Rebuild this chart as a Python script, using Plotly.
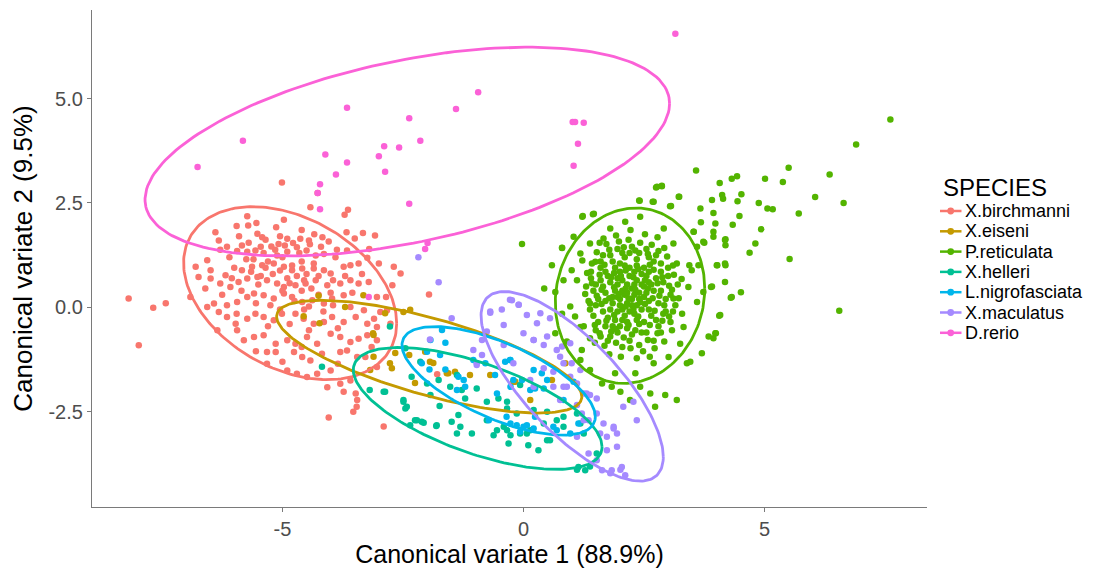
import numpy as np
import plotly.graph_objects as go

species = ["X.birchmanni", "X.eiseni", "P.reticulata", "X.helleri",
           "L.nigrofasciata", "X.maculatus", "D.rerio"]
colors = ["#F8766D", "#C49A00", "#53B400", "#00C094", "#00B6EB", "#A58AFF", "#FB61D7"]

# ---- point data (canonical variate 1, canonical variate 2) ----
birchmanni = [
    (-8.19, 0.21), (-7.68, -0.01), (-7.42, 0.10), (-7.98, -0.91), (-4.04, -2.64), (-2.90, -2.85),
    (-3.53, -2.50), (-3.46, -2.38), (-3.48, -2.06), (-3.45, -2.22), (-3.73, -2.02),
    (-5.01, 2.99), (-4.27, 2.74), (-4.42, 2.40), (-3.71, 2.22), (-3.64, 2.34), (-3.33, 1.78),
    (-3.08, 1.72), (-3.67, 1.80), (-1.96, 0.31), (-1.79, -1.60),
    (-5.73, 2.18), (-5.54, 2.02), (-5.71, 1.96), (-5.13, 1.92), (-4.97, 2.10), (-6.39, 1.80),
    (-6.32, 1.60), (-5.52, 1.76), (-5.42, 1.68), (-4.90, 1.64), (-4.78, 1.54), (-4.63, 1.64),
    (-4.34, 1.75), (-4.17, 1.68), (-4.04, 1.58), (-4.43, 1.51), (-4.70, 1.44), (-5.08, 1.52),
    (-5.23, 1.46), (-5.56, 1.36), (-5.84, 1.48), (-5.94, 1.35), (-5.73, 1.33), (-5.39, 1.30),
    (-5.11, 1.24), (-4.90, 1.33), (-4.50, 1.36), (-4.31, 1.24), (-4.14, 1.28), (-3.87, 1.38),
    (-3.66, 1.36), (-6.56, 1.13), (-6.29, 1.38), (-6.80, 0.97), (-6.49, 0.89), (-6.18, 0.77),
    (-5.84, 0.89), (-5.63, 0.97), (-5.42, 1.01), (-5.18, 1.05), (-4.97, 0.97), (-4.80, 0.89),
    (-4.59, 0.93), (-4.35, 0.93), (-4.14, 0.89), (-4.00, 0.81), (-3.73, 0.97), (-3.59, 1.01),
    (-3.42, 1.05), (-3.24, 1.19), (-6.91, 0.25), (-6.74, 0.73), (-6.49, 0.69), (-6.29, 0.57),
    (-6.08, 0.49), (-5.91, 0.61), (-5.73, 0.69), (-5.52, 0.73), (-5.32, 0.65), (-5.11, 0.57),
    (-4.97, 0.49), (-4.73, 0.53), (-4.52, 0.57), (-4.31, 0.65), (-4.07, 0.53), (-3.80, 0.57),
    (-3.59, 0.65), (-3.42, 0.57), (-3.21, 0.61), (-3.04, 0.25), (-2.69, 0.97), (-2.55, 0.81),
    (-2.72, 0.53), (-6.42, 0.09), (-6.15, 0.05), (-5.94, 0.13), (-5.73, 0.25), (-5.59, 0.33),
    (-5.39, 0.29), (-5.18, 0.21), (-4.97, 0.33), (-4.80, 0.25), (-4.59, 0.13), (-4.38, 0.17),
    (-4.14, 0.09), (-3.97, 0.21), (-3.73, 0.29), (-3.59, 0.01), (-3.31, -0.07), (-3.10, -0.27),
    (-2.97, -0.11), (-2.83, -0.07), (-2.76, -0.39), (-6.56, 0.01), (-6.32, -0.11), (-6.15, -0.23),
    (-5.97, -0.39), (-5.73, -0.27), (-5.56, -0.15), (-5.39, -0.23), (-5.18, -0.31), (-5.01, -0.15),
    (-4.73, -0.15), (-4.56, -0.27), (-4.35, -0.39), (-4.14, -0.35), (-3.97, -0.23), (-3.73, -0.35),
    (-3.48, -0.23), (-3.24, -0.39), (-3.04, -0.47), (-6.35, -0.55), (-5.94, -0.55), (-5.59, -0.71),
    (-5.39, -0.67), (-5.14, -0.87), (-4.90, -0.79), (-4.73, -0.87), (-4.49, -0.71), (-4.28, -0.87),
    (-4.00, -0.63), (-3.80, -0.71), (-3.59, -0.83), (-3.42, -0.75), (-3.24, -0.67), (-3.04, -0.79),
    (-5.80, -0.79), (-5.32, -1.07), (-5.14, -1.07), (-4.76, -1.07), (-4.59, -1.19), (-4.42, -1.27),
    (-4.18, -1.11), (-3.80, -1.07), (-3.66, -1.03), (-3.45, -1.19), (-3.28, -1.19), (-3.04, -1.43),
    (-5.32, -1.35), (-4.90, -1.51), (-4.70, -1.59), (-4.49, -1.67), (-4.28, -1.59), (-4.00, -1.51),
    (-3.80, -1.83), (-3.59, -1.75), (-4.07, -1.91),
    (-5.30, 1.10), (-5.00, 1.20), (-4.80, 1.00), (-4.60, 1.10), (-5.20, 0.80), (-4.90, 0.70),
    (-4.70, 0.75), (-4.50, 0.80), (-5.50, 0.55), (-5.00, 0.40), (-4.60, 0.40), (-4.40, 0.45),
    (-4.25, 0.30), (-4.00, 0.35), (-5.60, 1.15), (-5.45, 1.45), (-5.90, 1.70), (-5.70, 1.55),
    (-4.20, 1.45), (-4.45, 1.60), (-3.90, 1.20), (-3.70, 0.75), (-3.95, 0.05), (-4.55, -0.05),
    (-5.25, 0.05), (-5.85, 0.40), (-6.00, 0.95), (-6.10, 1.20),
    (-5.15, 1.38), (-4.95, 1.48), (-4.65, 1.30), (-5.35, 0.95), (-5.05, 0.88), (-4.85, 0.58),
    (-4.55, 0.65), (-4.35, 1.05), (-5.45, 0.75), (-5.65, 0.85), (-5.75, 1.15), (-6.05, 0.70),
    (-4.75, 0.15), (-4.45, 0.02), (-5.05, -0.05), (-5.55, 0.10), (-5.30, -0.45), (-4.85, -0.40),
    (-4.45, -0.55), (-4.15, -0.10), (-3.85, -0.50), (-3.55, 0.35), (-3.35, 0.80), (-3.95, 0.65),
    (-4.25, 0.75), (-6.25, 0.30), (-6.60, 0.45), (-5.95, -0.15), (-5.05, 1.70), (-4.60, 1.85),
    (-5.35, 1.62), (-5.95, 1.95), (-6.15, 1.45), (-3.50, 1.65), (-3.20, 1.40), (-3.00, 1.05),
    (-2.85, 0.25), (-3.15, -0.95), (-3.85, -1.35), (-4.60, -0.95), (-5.00, -1.30), (-5.55, -1.05),
]

eiseni = [
    (-4.25, 0.28), (-4.56, -0.21), (-4.23, -0.38), (-3.70, 0.01), (-2.87, -0.14), (-2.49, -0.11),
    (-2.35, -0.06), (-3.11, -0.66), (-3.11, -1.18), (-2.66, -1.09), (-2.37, -1.14), (-2.77, -1.34),
    (-2.73, -1.46), (-3.18, -1.50), (-2.04, -1.06), (-1.94, -1.30), (-1.87, -1.33), (-1.56, -1.58),
    (-1.42, -1.54), (-1.11, -1.62), (-2.25, -1.81), (-0.69, -1.62), (-3.12, -0.62), (-3.32, 0.29),
    (-0.17, -1.78), (0.14, -2.22), (0.59, -1.74), (-0.21, -1.78), (0.87, -1.34), (-1.59, -1.58),
]

reticulata = [
    # upper-right tail
    (7.61, 4.50), (6.90, 3.90), (6.35, 3.18), (5.50, 3.34), (5.01, 3.08), (5.38, 3.00),
    (6.05, 2.64), (6.64, 2.50), (5.71, 2.25), (6.55, -0.08), (5.52, 1.16), (4.93, 1.87),
    (4.81, 1.53), (4.69, 1.31), (4.88, 2.50), (5.06, 2.37), (5.17, 2.35), (4.52, 2.71),
    (4.44, 2.54), (4.48, 2.19), (4.34, 1.98), (4.32, 3.08), (4.43, 3.14), (4.07, 2.98),
    (4.12, 2.69), (4.14, 2.60), (3.91, 2.57), (3.94, 2.26), (3.98, 2.01), (3.94, 1.81),
    (3.75, 1.55), (3.67, 2.37), (3.68, 2.04), (4.19, 1.63), (4.19, 1.49), (4.02, 1.01),
    (4.19, 1.01), (4.18, 0.61), (3.89, 0.49), (4.30, 0.23), (4.51, 0.36), (4.06, -0.20),
    (3.99, -0.62), (3.94, -0.74), (3.58, 3.28), (2.75, 2.87), (2.87, 2.90), (3.23, 2.65),
    (2.40, 2.56), (2.68, 2.53), (3.06, 2.43), (3.53, 1.81), (3.44, 1.01), (3.63, 1.01),
    (3.73, 0.37), (-0.03, 1.52), (0.80, 1.42), (1.22, 2.17), (1.44, 2.23),
    # cluster edge
    (1.23, 2.19), (1.46, 2.24), (2.41, 2.55), (2.70, 2.53), (2.77, 2.89), (2.87, 2.91),
    (3.22, 2.65), (3.04, 2.42), (0.80, 1.43), (0.59, 1.01), (0.43, 0.45), (0.66, 0.37),
    (0.97, 0.02), (1.07, -0.22), (0.66, -0.62), (0.90, -0.82), (1.21, -1.02), (1.38, -1.50),
    (1.63, -1.82), (1.83, -1.90), (2.01, -2.02), (2.42, -1.90), (2.63, -2.06), (2.94, -2.10),
    (3.18, -2.22), (2.73, -2.38), (2.21, -2.22), (3.39, -1.34), (3.46, -1.30), (3.70, -1.10),
    (3.84, -0.70), (4.08, -0.18), (3.98, -0.62), (3.91, 0.50), (4.01, 1.01), (4.18, 1.05),
    (4.32, 0.25), (3.94, 1.69), (4.18, 1.61), (3.73, 1.57), (3.53, 1.81), (3.60, 1.45),
    (3.49, 0.89), (3.42, 0.49), (3.60, 0.13), (3.29, -0.15), (3.32, -0.47), (3.25, -0.87),
    (3.01, -1.19), (1.04, 1.69), (1.18, 1.29), (1.00, 0.89), (0.83, 0.65), (1.11, 0.65),
    (0.80, -0.15), (1.18, -0.47), (1.38, -0.74), (1.18, -1.26), (1.90, -1.58), (2.32, -1.58),
    (2.70, -1.34), (3.08, -0.55), (3.11, 0.21), (3.18, 1.05), (3.11, 1.53), (2.91, 1.89),
    (2.42, 2.17), (2.11, 2.05), (1.80, 1.89), (1.66, 1.65), (1.38, 1.53), (1.49, 1.09),
    (1.38, 0.09),
    # dense core
    (2.10, 0.30), (2.25, 0.45), (1.95, 0.55), (2.40, 0.20), (1.85, 0.10), (2.05, -0.05),
    (2.30, -0.15), (2.55, 0.35), (2.60, 0.60), (1.70, 0.35), (1.75, 0.75), (2.00, 0.85),
    (2.20, 0.95), (2.45, 0.80), (2.70, 0.90), (2.85, 0.40), (2.80, 0.10), (2.65, -0.20),
    (2.40, -0.40), (2.15, -0.35), (1.90, -0.30), (1.65, -0.10), (1.55, 0.20), (1.50, 0.55),
    (1.60, 0.95), (1.85, 1.10), (2.10, 1.20), (2.35, 1.15), (2.60, 1.20), (2.85, 1.05),
    (3.00, 0.75), (3.05, 0.30), (2.95, -0.10), (2.80, -0.45), (2.55, -0.60), (2.25, -0.65),
    (1.95, -0.60), (1.70, -0.45), (1.45, -0.20), (1.35, 0.15), (1.30, 0.50), (1.40, 0.85),
    (1.65, 1.25), (1.95, 1.40), (2.25, 1.45), (2.55, 1.40), (2.80, 1.35), (3.10, 1.00),
    (3.20, 0.55), (3.15, 0.05), (3.05, -0.35), (2.70, -0.80), (2.40, -0.90), (2.05, -0.95),
    (1.75, -0.80), (1.50, -0.55), (2.00, 0.20), (2.15, 0.10), (2.30, 0.30), (2.50, 0.50),
    (1.90, 0.40), (2.05, 0.65), (2.35, 0.65), (2.20, 0.75), (1.80, 0.60), (2.60, 0.15),
    (2.45, -0.05), (2.20, -0.10), (1.95, -0.10), (1.80, -0.05), (2.70, 0.40), (2.75, 0.70),
    (1.60, 0.65), (1.70, 0.15), (2.10, -0.20), (2.35, 0.05), (2.50, 0.95), (2.30, 0.85),
    (1.90, 0.95), (2.15, 0.55), (2.40, 0.35), (2.05, 0.40), (2.25, 0.20), (1.85, 0.25),
    (2.55, 0.75), (2.65, 0.55), (1.75, -0.25), (2.00, -0.45), (2.50, -0.35), (2.90, 0.60),
    (2.95, 0.20), (1.45, 0.40), (1.55, -0.35), (2.10, 1.00), (2.70, 1.10), (1.80, 1.25),
    (2.40, 1.30), (2.20, 1.30), (1.95, 0.70), (2.45, 0.55), (2.00, 0.05), (2.60, -0.05),
    (2.35, -0.30), (1.65, 0.50), (2.85, 0.85), (2.15, 0.35), (1.95, 0.25), (2.30, 0.55),
    (2.50, 0.25), (2.25, 0.05), (2.05, -0.30), (2.75, -0.30), (1.85, -0.45), (2.60, 0.85),
    (1.70, 0.85), (2.00, 1.05), (2.90, -0.15), (1.50, 0.05), (2.35, 1.00), (2.15, -0.50),
    (2.45, -0.60), (1.80, -0.70), (3.00, 0.95), (1.40, 0.70), (1.60, 1.10), (2.75, 1.25),
    (2.05, 1.30), (3.10, -0.10), (2.85, -0.60), (2.20, -0.80), (1.60, -0.70),
    (1.72, 1.52), (1.98, 1.58), (2.18, 1.62), (2.42, 1.55), (2.66, 1.50), (2.92, 1.42),
    (1.52, 1.32), (1.78, 1.38), (2.08, 1.44), (2.32, 1.36), (2.58, 1.28), (2.98, 1.22),
    (1.42, 1.05), (1.68, 1.02), (1.88, 0.82), (2.12, 0.88), (2.38, 0.92), (2.62, 1.02),
    (2.88, 0.72), (3.12, 0.78), (1.32, 0.82), (1.58, 0.78), (1.82, 0.72), (2.02, 0.75),
    (2.28, 0.72), (2.52, 0.65), (2.78, 0.58), (3.02, 0.52), (1.42, 0.58), (1.62, 0.42),
    (1.88, 0.48), (2.12, 0.45), (2.32, 0.42), (2.58, 0.45), (2.82, 0.28), (3.08, 0.42),
    (1.28, 0.32), (1.52, 0.28), (1.78, 0.22), (1.98, 0.32), (2.18, 0.22), (2.42, 0.12),
    (2.68, 0.22), (2.92, 0.05), (1.38, -0.05), (1.62, 0.08), (1.88, -0.18), (2.12, 0.02),
    (2.28, -0.05), (2.52, 0.08), (2.72, -0.08), (3.02, -0.22), (1.48, -0.42), (1.72, -0.32),
    (1.92, -0.52), (2.18, -0.42), (2.38, -0.22), (2.62, -0.42), (2.88, -0.32), (1.58, -0.62),
    (1.82, -0.58), (2.08, -0.72), (2.32, -0.55), (2.58, -0.78), (2.78, -0.62), (1.68, -0.92),
    (1.92, -0.85), (2.22, -0.98), (2.48, -1.05), (2.72, -0.98), (1.48, -0.85), (2.02, -1.18),
    (2.35, -1.22), (1.78, -1.12), (2.62, -1.18), (2.92, -0.82), (1.25, -0.45), (3.22, 0.22),
    (3.28, 0.68), (1.22, 1.12), (1.92, 1.72), (2.52, 1.75), (2.22, 1.85), (2.78, 1.68),
    (1.58, 1.55),
]

helleri = [
    (-2.77, -0.46), (-3.19, -1.98), (-2.87, -2.02), (-2.49, -2.22), (-2.42, -2.38), (-2.35, -2.82),
    (-2.21, -2.70), (-2.11, -2.74), (-1.81, -2.84), (-1.74, -2.36), (-1.49, -2.74), (-1.31, -2.86),
    (-1.35, -2.58), (-1.07, -3.02), (-0.76, -2.70), (-0.55, -2.94), (-0.41, -2.86), (-0.62, -3.06),
    (-0.27, -3.06), (-0.07, -3.02), (0.10, -3.30), (0.31, -3.42), (-0.31, -3.26), (0.42, -2.78),
    (0.69, -2.70), (0.83, -2.62), (1.11, -2.54), (1.25, -3.02), (0.55, -3.18), (0.14, -2.94),
    (-1.21, -2.18), (-0.97, -1.94), (-1.52, -1.90), (-1.76, -1.74), (-2.00, -1.82), (-1.38, -1.62),
    (-1.28, -1.98), (-0.76, -2.26), (-0.52, -2.18), (-0.34, -2.42), (-0.14, -2.54), (0.21, -2.46),
    (0.49, -2.50), (0.83, -2.86), (1.18, -2.78), (1.38, -3.81), (1.52, -3.50), (1.11, -3.89),
    (-1.93, -2.10), (-2.32, -1.66), (-2.14, -1.30), (-2.45, -0.98), (-4.18, -1.42), (-2.90, -2.02),
    (-2.49, -2.26), (-2.45, -2.42), (-2.25, -2.70), (-2.07, -2.76), (-1.80, -2.82), (-1.38, -3.02),
    (-0.34, -2.26), (-0.34, -2.94), (0.07, -3.02), (0.49, -3.18), (1.14, -3.82), (1.28, -3.90),
    (-0.07, -1.86),
]

nigrofasciata = [
    (-1.69, -0.54), (-1.62, -0.85), (-1.93, -0.78), (-1.73, -1.14), (-1.95, -1.49), (-1.62, -1.49),
    (-1.35, -1.66), (-1.24, -1.74), (-1.38, -1.98), (-1.21, -1.90), (-0.79, -1.34), (-0.59, -1.62),
    (-0.55, -2.06), (-0.38, -1.30), (-0.27, -1.26), (-0.21, -1.74), (-0.27, -1.90), (-0.03, -1.74),
    (0.14, -1.98), (0.21, -1.50), (0.42, -1.94), (0.49, -1.74), (-0.72, -2.70), (-0.27, -2.78),
    (-0.14, -2.82), (0.00, -2.86), (0.21, -2.90), (0.24, -2.62), (-1.04, -1.26), (-2.00, -1.06),
    (-2.11, -1.34), (0.69, -2.94), (0.97, -3.02), (1.14, -2.78), (-0.28, -1.26), (0.38, -1.58),
    (0.24, -1.94), (0.83, -2.22), (1.04, -1.78), (-0.35, -2.62), (0.07, -2.82), (0.62, -2.86),
    (-0.07, -2.98),
]

maculatus = [
    (-2.18, 1.20), (-1.76, 0.60), (-1.49, -0.26), (-1.94, -0.77), (-0.97, -1.38), (-0.86, -1.14),
    (-0.69, -0.13), (-0.45, -0.05), (-0.69, -0.10), (-0.24, 0.17), (-0.10, 0.06), (-0.41, -0.42),
    (0.07, -0.18), (0.28, -0.38), (0.00, -0.62), (0.35, -0.14), (0.55, -0.26), (0.21, -0.78),
    (0.42, -0.90), (0.69, -1.02), (0.76, -1.18), (0.97, -0.86), (0.83, -1.34), (0.62, -1.54),
    (0.97, -1.66), (0.83, -1.90), (1.11, -1.82), (1.25, -2.06), (1.38, -2.10), (1.52, -2.18),
    (1.11, -2.34), (1.25, -2.70), (1.52, -2.54), (1.66, -2.78), (1.87, -2.90), (1.73, -3.10),
    (1.94, -3.34), (1.52, -3.66), (1.80, -3.97), (2.01, -3.89), (-0.86, -0.78), (-1.04, -1.02),
    (-0.97, -1.34), (0.42, -1.46), (0.14, -1.74), (-0.21, -1.34), (-0.76, -0.58), (-0.41, -0.90),
    (-0.28, 0.18), (-0.10, 0.06), (0.21, -0.78), (0.49, -0.70), (0.80, -0.94), (1.00, -1.34),
    (1.18, -1.50), (0.90, -1.90), (1.31, -2.06), (1.21, -2.54), (1.35, -2.70), (1.11, -3.10),
    (1.59, -3.02), (1.73, -3.42), (1.35, -3.50), (1.63, -3.90), (1.83, -3.90), (2.04, -3.82),
    (2.11, -4.02), (1.87, -2.86), (1.94, -3.02), (2.28, -2.26), (2.35, -2.70), (2.07, -2.38),
    (0.21, -1.90), (0.62, -1.90), (0.76, -2.22),
]

rerio = [
    (-6.76, 3.36), (-5.82, 3.99), (-3.66, 4.78), (-4.11, 3.66), (-3.66, 3.47), (-3.89, 3.18),
    (-4.22, 2.95), (-4.27, 2.74), (-2.89, 3.86), (-2.58, 3.83), (-3.00, 3.62), (-2.87, 3.25),
    (-2.37, 4.53), (-2.14, 3.99), (-2.37, 2.48), (-1.40, 4.75), (-0.94, 5.15), (-4.22, 2.35),
    (-2.04, 1.40), (-1.99, 1.54), (-3.21, 0.25), (3.15, 6.55), (1.07, 4.44), (1.25, 4.42),
    (1.13, 3.92), (1.04, 3.39), (1.02, 4.44),
]

points = [birchmanni, eiseni, reticulata, helleri, nigrofasciata, maculatus, rerio]

# ---- 95% ellipse outlines: centre, x half-width, y half-height, correlation ----
ell_cx = [-4.84, -1.955, 2.21, -0.95, -0.515, 1.01, -2.41]
ell_cy = [0.34, -1.18, 0.28, -2.42, -1.76, -1.89, 3.73]
ell_hx = [2.21, 3.165, 1.55, 2.58, 2.005, 1.89, 5.44]
ell_hy = [2.07, 1.35, 2.10, 1.46, 1.30, 2.27, 2.50]
ell_rho = [-0.35, -0.71, 0.08, -0.63, -0.66, -0.745, 0.46]

x_ticks = [-5, 0, 5]
y_ticks = [-2.5, 0.0, 2.5, 5.0]

FONT = "Liberation Sans, Arial, Helvetica, sans-serif"

fig = go.Figure()

for name, col, pts in zip(species, colors, points):
    xs = [p[0] for p in pts]
    ys = [p[1] for p in pts]
    fig.add_trace(go.Scatter(x=xs, y=ys, mode="markers", name=name, legendgroup=name,
                             showlegend=False,
                             marker=dict(color=col, size=6.5, line=dict(width=0))))

t = np.linspace(0, 2 * np.pi, 200)
for i, (name, col) in enumerate(zip(species, colors)):
    r = ell_rho[i]
    ex = ell_cx[i] + ell_hx[i] * np.cos(t)
    ey = ell_cy[i] + ell_hy[i] * (r * np.cos(t) + np.sqrt(1 - r * r) * np.sin(t))
    fig.add_trace(go.Scatter(x=ex, y=ey, mode="lines", name=name, legendgroup=name,
                             showlegend=False, line=dict(color=col, width=2.8),
                             hoverinfo="skip"))

# ---- legend drawn as keys + text (ggplot-style compact spacing) ----
ML, MT, PW, PH = 84, 2, 835, 497   # plot-area margins / size in figure pixels


def px_x(p):
    return (p - ML) / PW


def px_y(p):
    return 1 - (p - MT) / PH


key_x0, key_x1, dot_x, text_x = 932, 953.5, 942.7, 955.5
first_y, step = 203.0, 20.3

shapes = []
annotations = [dict(text="SPECIES", x=px_x(934), y=px_y(179.5), xref="paper", yref="paper",
                    xanchor="left", yanchor="middle", showarrow=False, borderpad=0,
                    font=dict(family=FONT, size=24, color="black"))]
for i, (name, col) in enumerate(zip(species, colors)):
    yy = first_y + step * i
    shapes.append(dict(type="line", xref="paper", yref="paper",
                       x0=px_x(key_x0), x1=px_x(key_x1), y0=px_y(yy), y1=px_y(yy),
                       line=dict(color=col, width=2.5)))
    shapes.append(dict(type="circle", xref="paper", yref="paper",
                       x0=px_x(dot_x - 3.4), x1=px_x(dot_x + 3.4),
                       y0=px_y(yy + 3.4), y1=px_y(yy - 3.4),
                       fillcolor=col, line=dict(width=0)))
    annotations.append(dict(text=name, x=px_x(text_x), y=px_y(yy), xref="paper", yref="paper",
                            xanchor="left", yanchor="middle", showarrow=False, borderpad=0,
                            font=dict(family=FONT, size=18, color="black")))

axis_common = dict(showgrid=False, zeroline=False, showline=True, linecolor="#7a7a7a",
                   linewidth=1.2, ticks="outside", ticklen=4, tickcolor="#7a7a7a",
                   tickfont=dict(family=FONT, size=20, color="#4D4D4D"),
                   mirror=False, automargin=False)

fig.update_layout(
    width=1099, height=575,
    margin=dict(l=ML, r=1099 - ML - PW, t=MT, b=575 - MT - PH),
    paper_bgcolor="white", plot_bgcolor="white",
    font=dict(family=FONT, color="black"),
    xaxis=dict(range=[-8.95, 8.37], tickvals=x_ticks, ticktext=[str(v) for v in x_ticks],
               title=dict(text="Canonical variate 1 (88.9%)", font=dict(size=25), standoff=5),
               **axis_common),
    yaxis=dict(range=[-4.78, 7.12], tickvals=y_ticks, ticktext=[f"{v:.1f}" for v in y_ticks],
               title=dict(text="Canonical variate 2 (9.5%)", font=dict(size=26), standoff=10),
               **axis_common),
    shapes=shapes,
    annotations=annotations,
    showlegend=False,
)

fig.write_html("out.html")
